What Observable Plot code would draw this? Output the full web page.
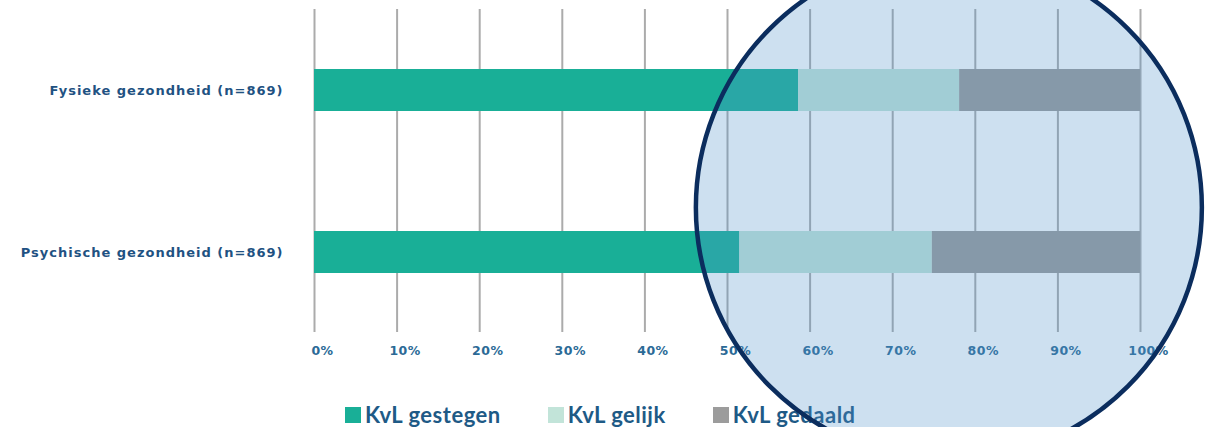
<!DOCTYPE html>
<html>
<head>
<meta charset="utf-8">
<script src="https://cdn.jsdelivr.net/npm/d3@7"></script>
<script src="https://cdn.jsdelivr.net/npm/@observablehq/plot@0.6"></script>
<style>
  html, body { margin: 0; padding: 0; background: #fff; }
  #wrap { position: relative; width: 1210px; height: 427px; overflow: hidden; }
  #chart { position: relative; z-index: 2; }
  #chart svg { overflow: visible; }
  #chart g[aria-label="y-axis tick label"] text { letter-spacing: 1px; }
  #chart g[aria-label="x-axis tick label"] text { letter-spacing: 0.5px; }
  #legend { position: relative; z-index: 1; display: flex; align-items: center; margin-left: 345px; margin-top: 26px;
            font-family: Lato, sans-serif; font-weight: 700; font-size: 22px; letter-spacing: 0.5px; color: #1e5a86; }
  .item { display: flex; align-items: center; margin-right: 47px; }
  .sw { width: 16px; height: 16px; margin-right: 4px; }
</style>
</head>
<body>
<div id="wrap">
  <div id="chart"></div>
  <div id="legend"></div>
</div>
<script>
const categories = ["Fysieke gezondheid (n=869)", "Psychische gezondheid (n=869)"];
const series = ["KvL gestegen", "KvL gelijk", "KvL gedaald"];
const gestegen = [58.6, 51.5];
const gelijk = [19.5, 23.3];
const gedaald = [21.9, 25.2];
const colors = ["#19af97", "#c2e4d9", "#9c9c9c"];
const xTicks = [0, 10, 20, 30, 40, 50, 60, 70, 80, 90, 100];
const highlight = [{x: 76.8}];

const values = [gestegen, gelijk, gedaald];
const data = categories.flatMap((c, i) => series.map((s, j) => ({cat: c, series: s, value: values[j][i]})));

const chart = Plot.plot({
  width: 1210,
  height: 375,
  marginLeft: 314,
  marginRight: 70,
  marginTop: 9,
  marginBottom: 43,
  style: {fontFamily: "'DejaVu Sans', sans-serif", background: "transparent", overflow: "visible"},
  x: {domain: [0, 100], axis: null},
  y: {domain: categories, paddingInner: 0.742, paddingOuter: 0.362, axis: null},
  color: {domain: series, range: colors},
  marks: [
    Plot.ruleX(xTicks, {stroke: "#ababab", strokeWidth: 2}),
    Plot.barX(data, Plot.stackX({y: "cat", x: "value", fill: "series"})),
    Plot.axisX(xTicks, {tickSize: 0, tickPadding: 14, dx: 8, tickFormat: d => d + "%", fontSize: 12.5, fontWeight: 700, fill: "#2b6a96", label: null}),
    Plot.axisY({tickSize: 0, tickPadding: 31, fontSize: 13, fontWeight: 700, fill: "#1f5282", label: null}),
    Plot.dot(highlight, {x: "x", r: 253, dy: 36.5, fill: "rgb(83,148,203)", fillOpacity: 0.29, stroke: "#0b2d5e", strokeWidth: 4.5})
  ]
});
document.getElementById("chart").appendChild(chart);

const legend = document.getElementById("legend");
series.forEach((s, i) => {
  const item = document.createElement("div");
  item.className = "item";
  const sw = document.createElement("div");
  sw.className = "sw";
  sw.style.background = colors[i];
  const t = document.createElement("span");
  t.textContent = s;
  item.appendChild(sw);
  item.appendChild(t);
  legend.appendChild(item);
});
</script>
</body>
</html>
